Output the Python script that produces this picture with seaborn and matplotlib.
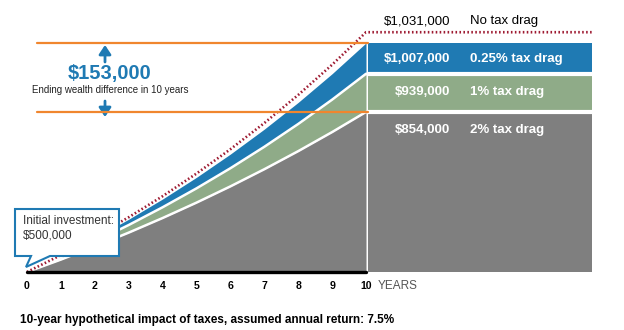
import matplotlib
matplotlib.use("Agg")
import matplotlib.pyplot as plt
import matplotlib.transforms as mtransforms
from matplotlib.patches import Polygon
import pandas as pd
import seaborn as sns

# ---------------- data ----------------
years = [0, 1, 2, 3, 4, 5, 6, 7, 8, 9, 10]
no_drag = [500000, 537500, 577813, 621148, 667734, 717815, 771651, 829524, 891739, 958620, 1030516]
drag_025 = [500000, 536250, 575128, 616825, 661545, 709507, 760947, 816115, 875284, 938742, 1006801]
drag_1 = [500000, 532500, 567113, 603975, 643233, 685044, 729571, 776994, 827498, 881285, 938569]
drag_2 = [500000, 527500, 556513, 587121, 619413, 653480, 689422, 727340, 767344, 809547, 854072]
end_values = ["$1,031,000", "$1,007,000", "$939,000", "$854,000"]
series_names = ["No tax drag", "0.25% tax drag", "1% tax drag", "2% tax drag"]
tick_labels = ["0", "1", "2", "3", "4", "5", "6", "7", "8", "9", "10"]
diff_label = "$153,000"
diff_caption = "Ending wealth difference in 10 years"
callout_text = "Initial investment:\n$500,000"
x_unit = "YEARS"
title = "10-year hypothetical impact of taxes, assumed annual return: 7.5%"

df = pd.DataFrame({"year": years, "no": no_drag, "d025": drag_025, "d1": drag_1, "d2": drag_2})

# ---------------- style ----------------
sns.set_theme(style="white")
plt.rcParams['font.family'] = ['Liberation Sans', 'DejaVu Sans']

BLUE = "#1F7AB3"
GREEN = "#8FAB88"
GRAY = "#7F7F7F"
ORANGE = "#F0862E"
RED = "#9E1B32"

W, H = 624, 330
fig = plt.figure(figsize=(W / 100, H / 100), dpi=100)
fig.patch.set_facecolor("white")


def fx(px):
    return px / W


def fy(py):
    return 1 - py / H


X0, X10, XR = 27, 366, 592
ax = fig.add_axes([fx(X0), fy(272), fx(XR) - fx(X0), fy(32) - fy(272)])
unit = (X10 - X0) / 10
XMAX = 10 + (XR - X10) / unit
YMIN = 500000
ax.set_xlim(0, XMAX)
ax.set_ylim(YMIN, 1031000)
ax.axis("off")

# stacked areas
ax.fill_between(df["year"], YMIN, df["d2"], color=GRAY, lw=0)
ax.fill_between(df["year"], df["d2"], df["d1"], color=GREEN, lw=0)
ax.fill_between(df["year"], df["d1"], df["d025"], color=BLUE, lw=0)
sns.lineplot(data=df, x="year", y="d2", color="white", lw=1.8, ax=ax)
sns.lineplot(data=df, x="year", y="d1", color="white", lw=1.8, ax=ax)

# right-hand boxes
xb = 10 + 2 / unit
ax.fill_between([xb, XMAX], YMIN, drag_2[-1], color=GRAY, lw=0)
ax.fill_between([xb, XMAX], drag_2[-1], drag_1[-1], color=GREEN, lw=0)
ax.fill_between([xb, XMAX], drag_1[-1], drag_025[-1], color=BLUE, lw=0)
ax.plot([xb, XMAX], [drag_2[-1]] * 2, color="white", lw=3)
ax.plot([xb, XMAX], [drag_1[-1]] * 2, color="white", lw=3)

# no tax drag dotted line
ax.plot(years + [XMAX], no_drag + [no_drag[-1]], color=RED, lw=1.9,
        ls=(0, (0.6, 0.9)), clip_on=False, zorder=5)

# orange reference lines
ax.plot([0.3, 10.05], [drag_025[-1]] * 2, color=ORANGE, lw=1.6, zorder=6)
ax.plot([0.3, 10.05], [drag_2[-1]] * 2, color=ORANGE, lw=1.6, zorder=6)

# baseline
ax.plot([0, 10], [YMIN, YMIN], color="black", lw=2.4, clip_on=False, zorder=7)

# difference arrows and label
ap = dict(arrowstyle="-|>,head_width=0.3,head_length=0.45", color=BLUE, lw=2, shrinkA=0, shrinkB=0)
ax.annotate("", xy=(fx(105), fy(45)), xytext=(fx(105), fy(62)),
            xycoords="figure fraction", textcoords="figure fraction", arrowprops=ap)
ax.annotate("", xy=(fx(105), fy(117)), xytext=(fx(105), fy(101)),
            xycoords="figure fraction", textcoords="figure fraction", arrowprops=ap)
fig.text(fx(110), fy(73), diff_label, color=BLUE, fontsize=14.5, fontweight="bold",
         ha="center", va="center")
fig.text(fx(110), fy(90), diff_caption, color="#222222", fontsize=7,
         ha="center", va="center")

# right labels
label_y = [21, 59, 92, 130]
for i, (val, name, py) in enumerate(zip(end_values, series_names, label_y)):
    col = "black" if i == 0 else "white"
    wt = "normal" if i == 0 else "bold"
    fig.text(fx(450), fy(py), val, color=col, fontsize=9.5, fontweight=wt, ha="right", va="center")
    fig.text(fx(470), fy(py), name, color=col, fontsize=9.5, fontweight=wt, ha="left", va="center")

# x tick labels
trans = mtransforms.blended_transform_factory(ax.transData, fig.transFigure)
for yv, lab in zip(years, tick_labels):
    ax.text(yv, fy(286), lab, transform=trans, fontsize=7.6, fontweight="bold",
            ha="center", va="center", color="black")
fig.text(fx(378), fy(286), x_unit, fontsize=8.5, color="#555555", ha="left", va="center")

# callout
pts = [(15, 209), (119, 209), (119, 256), (50, 256), (26, 267), (31, 256), (15, 256)]
poly = Polygon([(fx(a), fy(b)) for a, b in pts], closed=True, transform=fig.transFigure,
               facecolor="white", edgecolor=BLUE, lw=1.5, zorder=10)
fig.add_artist(poly)
fig.text(fx(23), fy(228), callout_text, fontsize=8.5, color="#333333", ha="left", va="center",
         linespacing=1.3, zorder=11)

# title
fig.text(fx(20), fy(320), title, fontsize=8.5, fontweight="bold", color="black",
         ha="left", va="center")

fig.savefig("out.png", dpi=100, facecolor="white")
